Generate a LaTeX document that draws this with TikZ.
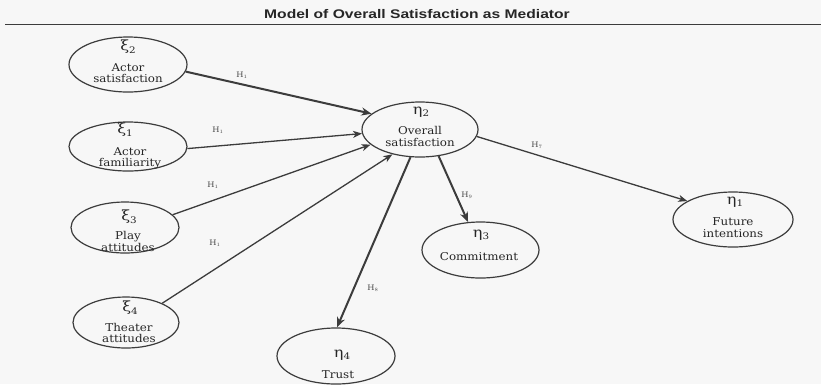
\documentclass[tikz,border=0pt]{standalone}
\usepackage{fontspec}
\setmainfont{DejaVu Serif}[FakeStretch=1.1]
\newfontfamily\titlefont{Liberation Sans}[FakeStretch=1.25]
\newfontfamily\greekfont{DejaVu Serif}[FakeStretch=1.15]
\usetikzlibrary{shapes.geometric,arrows.meta}
\definecolor{linec}{HTML}{3C3C3C}
\definecolor{textc}{HTML}{262626}
\definecolor{bgc}{HTML}{F7F7F7}
\newcommand{\gsym}[2]{#1{\fontsize{9}{9}\selectfont\raisebox{-2.5pt}{#2}}}
\tikzset{
  ell/.style={draw=linec, line width=1.2pt, ellipse, inner sep=0pt},
  sym/.style={inner sep=0pt, text=textc, font=\greekfont\fontsize{14}{14}\selectfont},
  txt/.style={inner sep=0pt, text=textc, align=center, font=\fontsize{10.8}{11.5}\selectfont},
  hlab/.style={inner sep=0pt, text=textc!85, font=\fontsize{7.5}{7.5}\selectfont},
  arr/.style={draw=linec, line width=1.3pt, -{Stealth[length=9pt,width=7pt,inset=2.5pt]}},
  tarr/.style={draw=linec, line width=2pt, -{Stealth[length=10pt,width=8pt,inset=3pt]}},
}
\begin{document}
\begin{tikzpicture}[x=1pt,y=-1pt]
\useasboundingbox (0,0) rectangle (821,384);
\fill[bgc] (0,0) rectangle (821,384);
% title
\node[inner sep=0pt, text=textc, font=\titlefont\bfseries\fontsize{12.5}{13}\selectfont] (title) at (417,14) {Model of Overall Satisfaction as Mediator};
\coordinate (rl) at (5,24);
\coordinate (rr) at (821,24);
\draw[linec, line width=1pt] (rl) -- (rr);
% ellipses
\node[ell, minimum width=118pt, minimum height=55pt] (xi2) at (128,64.5) {};
\node[ell, minimum width=118pt, minimum height=49pt] (xi1) at (128,146.5) {};
\node[ell, minimum width=108pt, minimum height=51pt] (xi3) at (125,227.5) {};
\node[ell, minimum width=106pt, minimum height=51pt] (xi4) at (126,322.5) {};
\node[ell, minimum width=116pt, minimum height=55pt] (eta2) at (420,129.5) {};
\node[ell, minimum width=117pt, minimum height=56pt] (eta3) at (480.5,250) {};
\node[ell, minimum width=120pt, minimum height=55pt] (eta1) at (733,219.5) {};
\node[ell, minimum width=118pt, minimum height=56pt] (eta4) at (336,356) {};
% symbols
\node[sym] (xi2s) at (128,47) {\gsym{ξ}{2}};
\node[sym] (xi1s) at (125,130) {\gsym{ξ}{1}};
\node[sym] (xi3s) at (129,217) {\gsym{ξ}{3}};
\node[sym] (xi4s) at (130,308) {\gsym{ξ}{4}};
\node[sym] (eta2s) at (421,112) {\gsym{η}{2}};
\node[sym] (eta3s) at (481,235) {\gsym{η}{3}};
\node[sym] (eta1s) at (735,202) {\gsym{η}{1}};
\node[sym] (eta4s) at (342,355) {\gsym{η}{4}};
% texts
\node[txt] (xi2t) at (128,73) {Actor\\satisfaction};
\node[txt] (xi1t) at (130,158.5) {Actor\\familiarity};
\node[txt] (xi3t) at (128,241.5) {Play\\attitudes};
\node[txt] (xi4t) at (129,333) {Theater\\attitudes};
\node[txt] (eta2t) at (420,136.5) {Overall\\satisfaction};
\node[txt] (eta3t) at (479,257) {Commitment};
\node[txt] (eta1t) at (733,227.5) {Future\\intentions};
\node[txt] (eta4t) at (338,375) {Trust};
% arrows
\draw[tarr] (xi2.-7) -- (eta2.162);
\draw[arr] (xi1.-2) -- (eta2.-176.5);
\draw[arr] (xi3.15) -- (eta2.-163.5);
\draw[arr] (xi4.28) -- (eta2.-138.5);
\draw[tarr] (eta2.-109) -- (eta4.88);
\draw[tarr] (eta2.-55) -- (eta3.114);
\draw[arr] (eta2.-7.5) -- (eta1.158.7);
% labels
\node[hlab] (h1a) at (242,75) {H$_1$};
\node[hlab] (h1b) at (218,130) {H$_1$};
\node[hlab] (h1c) at (213,185) {H$_1$};
\node[hlab] (h1d) at (215,243) {H$_1$};
\node[hlab] (h7) at (537,145) {H$_7$};
\node[hlab] (h9) at (467,195) {H$_9$};
\node[hlab] (h8) at (373,288) {H$_8$};
\end{tikzpicture}
\end{document}
